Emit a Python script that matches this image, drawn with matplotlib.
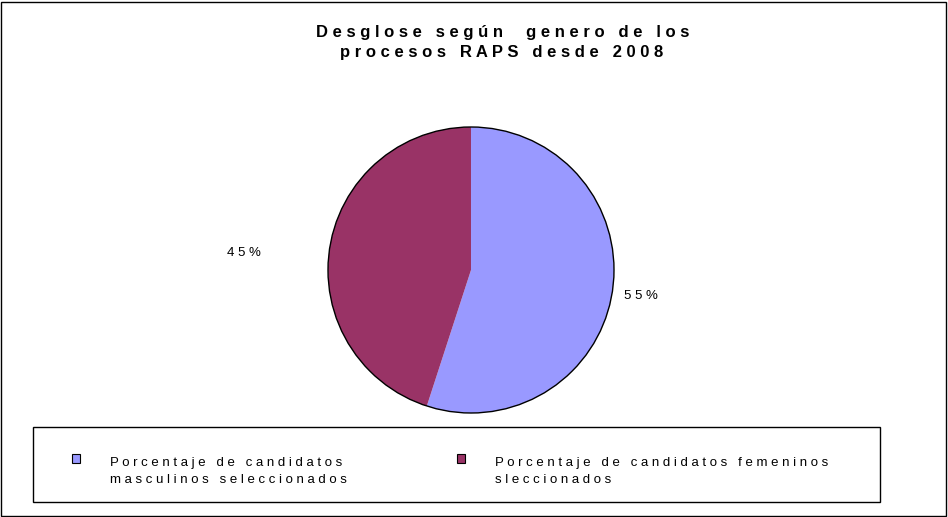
import matplotlib
matplotlib.use('Agg')
from matplotlib import pyplot as plt
from matplotlib.patches import Rectangle, Circle

plt.rcParams['font.family'] = ['Liberation Sans', 'DejaVu Sans']

title_lines = ['Desglose según  genero de los', 'procesos RAPS desde 2008']
categories = ['Porcentaje de candidatos\nmasculinos seleccionados',
              'Porcentaje de candidatos femeninos\nsleccionados']
shares = [55, 45]
pct_labels = ['55%', '45%']
colors = ['#9999FF', '#993366']


def spaced(s):
    # mimic the wide letter spacing of the original
    return '\n'.join(' '.join(list(line)) for line in s.split('\n'))


W, H = 948, 517
fig = plt.figure(figsize=(W / 100, H / 100), dpi=100)
fig.patch.set_facecolor('white')
fig.patches.append(Rectangle((1 / W, 1 / H), 1 - 3 / W, 1 - 3 / H, transform=fig.transFigure,
                             fill=False, edgecolor='black', lw=1))

fig.text(503 / W, 1 - 32 / H, spaced(title_lines[0]), ha='center', va='center',
         fontsize=12, fontweight='bold')
fig.text(502 / W, 1 - 52 / H, spaced(title_lines[1]), ha='center', va='center',
         fontsize=12, fontweight='bold')

# pie, no separators between slices, outline only round the edge
cx, cy, r = 471, 270, 143
ax = fig.add_axes([(cx - r) / W, (H - cy - r) / H, 2 * r / W, 2 * r / H])
ax.pie(shares, colors=colors, startangle=90, counterclock=False,
       wedgeprops=dict(linewidth=0))
ax.add_patch(Circle((0, 0), 1, fill=False, edgecolor='black', lw=1, clip_on=False))
ax.set_xlim(-1, 1)
ax.set_ylim(-1, 1)
ax.set_aspect('equal')
ax.axis('off')
ax.text(1.19, -0.18, spaced(pct_labels[0]), ha='center', va='center', fontsize=9.5)
ax.text(-1.59, 0.12, spaced(pct_labels[1]), ha='center', va='center', fontsize=9.5)

# legend box
fig.patches.append(Rectangle((33 / W, 1 - 502 / H), (880 - 33) / W, (502 - 427) / H,
                             transform=fig.transFigure, fill=False, edgecolor='black', lw=1))
for i, (lab, col) in enumerate(zip(categories, colors)):
    mx = [72, 457][i]
    fig.patches.append(Rectangle((mx / W, 1 - 463 / H), 8 / W, 9 / H, transform=fig.transFigure,
                                 facecolor=col, edgecolor='black', lw=0.8))
    fig.text([110, 495][i] / W, 1 - 471.5 / H, spaced(lab), ha='left', va='center',
             fontsize=9.5, linespacing=1.45)

plt.savefig('out.png', dpi=100)
plt.close()
